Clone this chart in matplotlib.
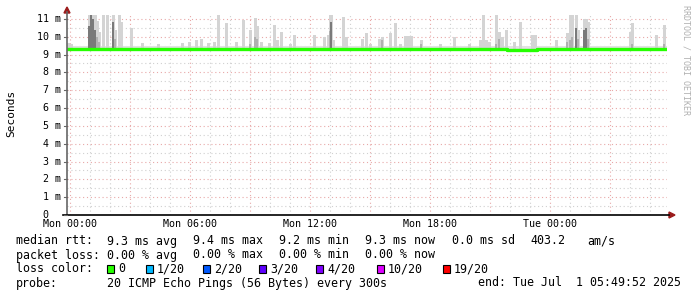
import numpy as np
import matplotlib
matplotlib.use("Agg")
import matplotlib.pyplot as plt
from matplotlib.patches import Polygon, Rectangle
from matplotlib.lines import Line2D

plt.rcParams['font.family'] = ['DejaVu Sans Mono']

W, H = 697, 297

# time axis: hours since Mon 00:00
t_start = -(10 + 8 / 60) / 60      # Sun 23:49:52
t_end = 29 + 49 / 60 + 52 / 3600   # Tue 05:49:52
y_max = 11.22                      # ms

# median rtt (ms), one value per 30 minutes
median_ms = [9.30, 9.31, 9.30, 9.29, 9.30, 9.31, 9.30, 9.30, 9.29, 9.30,
             9.31, 9.30, 9.29, 9.30, 9.30, 9.31, 9.29, 9.29, 9.29, 9.29,
             9.30, 9.30, 9.31, 9.30, 9.29, 9.30, 9.31, 9.30, 9.30, 9.29,
             9.30, 9.31, 9.30, 9.30, 9.29, 9.30, 9.31, 9.30, 9.29, 9.30,
             9.30, 9.31, 9.30, 9.29, 9.28, 9.28, 9.28, 9.29, 9.30, 9.31,
             9.32, 9.31, 9.30, 9.29, 9.30, 9.30, 9.31, 9.31, 9.32, 9.31, 9.30]

# smoke: baseline spread of the pings (ms)
smoke_lo = 9.2
smoke_hi = 9.5

# smoke spikes: hour, highest ping (ms), top of the dense core (ms)
spike_hour = [-0.1, 0.05, 0.95, 1.05, 1.15, 1.25, 1.35, 1.45, 1.65, 1.85,
              2.15, 2.25, 2.45, 2.55, 3.05, 3.6, 4.4, 5.6, 5.95, 6.3,
              6.55, 6.9, 7.2, 7.4, 7.8, 8.3, 8.65, 9.0, 9.25, 9.35,
              9.55, 9.95, 10.2, 10.35, 10.55, 11.0, 11.2, 12.2, 12.7, 12.9,
              13.0, 13.05, 13.15, 13.65, 13.8, 14.6, 14.8, 15.0, 15.45, 15.6,
              16.0, 16.25, 16.5, 16.75, 16.85, 16.95, 17.05, 17.55, 18.5, 19.2,
              19.95, 20.5, 20.65, 20.8, 20.95, 21.3, 21.45, 21.6, 21.8, 22.2,
              22.5, 23.1, 23.25, 24.3, 24.85, 25.0, 25.1, 25.3, 25.4, 25.7,
              25.8, 25.9, 28.0, 28.1, 29.3, 29.7]
spike_top = [9.65, 9.6, 11.22, 11.22, 11.22, 11.22, 10.9, 10.27, 11.22, 11.22,
             11.22, 10.4, 11.22, 10.83, 10.5, 9.65, 9.6, 9.65, 9.7, 9.8,
             9.87, 9.65, 9.7, 11.22, 10.77, 9.7, 10.94, 10.38, 11.05, 10.6,
             9.7, 9.65, 10.66, 9.8, 10.27, 9.6, 10.1, 10.1, 9.99, 10.1,
             11.22, 11.22, 9.8, 11.1, 9.99, 9.87, 10.2, 9.6, 9.87, 9.99,
             10.2, 10.77, 9.6, 10.05, 10.05, 10.05, 10.05, 9.8, 9.6, 9.99,
             9.6, 9.8, 11.22, 9.8, 9.7, 11.22, 10.27, 9.99, 10.38, 9.7,
             10.83, 10.1, 10.1, 9.8, 10.2, 11.22, 11.22, 11.22, 10.4, 11.0,
             11.0, 10.8, 10.27, 10.77, 10.1, 10.66]
spike_core = [9.4, 9.4, 10.6, 11.22, 11.0, 10.4, 10.0, 9.7, 9.4, 9.5,
              10.8, 9.9, 9.5, 9.4, 9.4, 9.4, 9.4, 9.4, 9.4, 9.4,
              9.4, 9.4, 9.4, 9.4, 9.5, 9.4, 9.5, 9.6, 10.0, 9.9,
              9.4, 9.4, 9.5, 9.4, 9.5, 9.4, 9.5, 9.5, 9.5, 9.5,
              10.3, 10.8, 9.5, 9.5, 9.5, 9.5, 9.5, 9.4, 9.5, 9.8,
              9.5, 9.5, 9.4, 9.5, 9.5, 9.5, 9.5, 9.6, 9.4, 9.5,
              9.4, 9.5, 9.5, 9.5, 9.4, 9.6, 9.9, 9.5, 9.5, 9.4,
              9.5, 9.5, 9.5, 9.5, 9.7, 9.8, 10.0, 10.5, 9.9, 10.4,
              10.5, 9.9, 9.5, 9.6, 9.5, 9.6]

x_labels = ["Mon 00:00", "Mon 06:00", "Mon 12:00", "Mon 18:00", "Tue 00:00"]
x_label_hours = [0, 6, 12, 18, 24]

loss_labels = ["0", "1/20", "2/20", "3/20", "4/20", "10/20", "19/20"]
loss_colors = ["#26ff00", "#00b8ff", "#0059ff", "#5e00ff", "#7e00ff", "#dd00ff", "#ff0000"]
loss_box_x = [107, 146, 203, 259, 316, 377, 443]

fig = plt.figure(figsize=(W / 100, H / 100), dpi=100)
fig.patch.set_facecolor("white")
ax = fig.add_axes([67 / W, 82 / H, 600 / W, 200 / H])
ax.set_xlim(t_start, t_end)
ax.set_ylim(0, y_max)
for s in ax.spines.values():
    s.set_visible(False)
ax.set_xticks([])
ax.set_yticks([])

# grid
for h in np.arange(0, 30, 1):
    major = h % 3 == 0
    ax.axvline(h, color="#e8a8a8" if major else "#d0d0d0", lw=0.8,
               ls=(0, (1, 2.5)), zorder=1)
for v in np.arange(0.5, 11.5, 0.5):
    major = v % 1 == 0
    ax.axhline(v, color="#e8a8a8" if major else "#d0d0d0", lw=0.8,
               ls=(0, (1, 2.5)), zorder=1)

# smoke
ax.fill_between([t_start, t_end], smoke_lo, smoke_hi, color="#e2e2e2", lw=0, zorder=2)
step = 0.14
for hr, top, core in zip(spike_hour, spike_top, spike_core):
    ax.bar(hr, top - smoke_lo, bottom=smoke_lo, width=step, color="#d4d4d4",
           lw=0, zorder=3)
    if core - smoke_lo > 0.35:
        shade = "#7a7a7a" if core - smoke_lo > 1.2 else "#b0b0b0"
        ax.bar(hr, core - smoke_lo, bottom=smoke_lo, width=step * 0.7, color=shade,
               lw=0, zorder=4)

# median line
med_t = t_start + 0.5 * np.arange(len(median_ms) + 1)
med_v = median_ms + [median_ms[-1]]
ax.step(med_t, med_v, where="post", color="#26ff00", lw=2.4, zorder=5)


def px(x, y):
    return x / W, 1 - y / H


def ftext(x, y, s, **kw):
    kw.setdefault("fontsize", 8.4)
    kw.setdefault("va", "center")
    kw.setdefault("ha", "left")
    fig.text(*px(x, y), s, **kw)


# axes lines and arrows
fig.add_artist(Line2D([px(67, 0)[0]] * 2, [px(0, 215)[1], px(0, 12)[1]],
                      color="#666666", lw=1.2))
fig.add_artist(Line2D([px(63, 0)[0], px(669, 0)[0]], [px(0, 215)[1]] * 2,
                      color="#000000", lw=1.2))
fig.add_artist(Polygon([px(64, 13), px(70, 13), px(67, 7)], closed=True,
                       transform=fig.transFigure, color="#9b1c1c"))
fig.add_artist(Polygon([px(669, 212), px(669, 218), px(675, 215)], closed=True,
                       transform=fig.transFigure, color="#9b1c1c"))

# y labels
for v in range(0, 12):
    y = 215 - v * (200 / y_max)
    lab = "%2d m" % v if v > 0 else " 0  "
    ftext(37, y, lab, fontsize=7.2)
    fig.add_artist(Line2D([px(64, 0)[0], px(67, 0)[0]], [px(0, y)[1]] * 2,
                          color="#666666", lw=0.8))

# x labels
for lab, h in zip(x_labels, x_label_hours):
    x = 67 + (h - t_start) / (t_end - t_start) * 600
    ftext(x, 224, lab, fontsize=7.2, ha="center")

ftext(11, 113, "Seconds", fontsize=8, rotation=90, ha="center")
ftext(686, 60, "RRDTOOL / TOBI OETIKER", fontsize=6, rotation=270,
      ha="center", color="#b0b0b0")

# legend
ftext(16, 241, "median rtt:")
ftext(107, 241, "9.3 ms avg")
ftext(193, 241, "9.4 ms max")
ftext(279, 241, "9.2 ms min")
ftext(365, 241, "9.3 ms now")
ftext(452, 241, "0.0 ms sd")
ftext(530, 241, "403.2")
ftext(587, 241, "am/s")

ftext(16, 255, "packet loss:")
ftext(107, 255, "0.00 % avg")
ftext(193, 255, "0.00 % max")
ftext(279, 255, "0.00 % min")
ftext(365, 255, "0.00 % now")

ftext(16, 269, "loss color:")
for bx, lab, col in zip(loss_box_x, loss_labels, loss_colors):
    fig.add_artist(Rectangle(px(bx, 273), 7 / W, 8 / H, transform=fig.transFigure,
                             facecolor=col, edgecolor="black", lw=0.8))
    ftext(bx + 11, 269, lab)

ftext(16, 283, "probe:")
ftext(107, 283, "20 ICMP Echo Pings (56 Bytes) every 300s")
ftext(478, 283, "end: Tue Jul  1 05:49:52 2025")

fig.savefig("out.png", dpi=100, facecolor="white")
